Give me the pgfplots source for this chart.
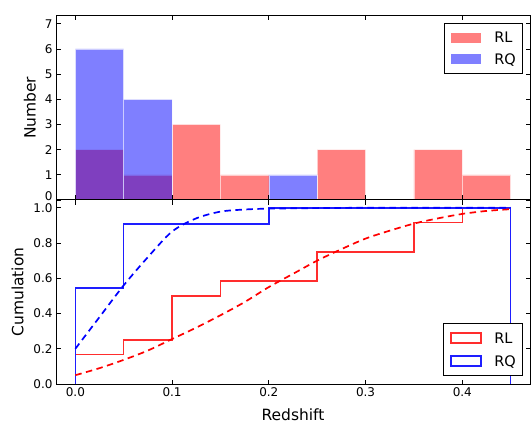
\documentclass[border=0pt]{standalone}
\usepackage{fontspec}
\setmainfont{DejaVu Sans}
\usepackage{pgfplots}
\pgfplotsset{compat=1.18}

\definecolor{rlline}{RGB}{255,45,45}
\definecolor{rqline}{RGB}{30,30,255}

\pgfplotsset{
  panel/.style={
    scale only axis,
    width=474pt,
    xmin=-0.02, xmax=0.47,
    xtick={0,0.1,0.2,0.3,0.4},
    tick align=inside,
    major tick length=4.5pt,
    every tick/.style={black, line width=0.8pt},
    axis line style={black, line width=1pt},
    tick label style={font=\fontsize{12}{12}\selectfont},
    /pgf/number format/assume math mode=true,
    label style={font=\fontsize{15.5}{16}\selectfont},
    legend cell align=left,
    legend style={
      draw=black, line width=1pt, fill=white,
      inner xsep=6.7pt, inner ysep=8.9pt,
      row sep=11.2pt,
      font=\fontsize{14.5}{16}\selectfont,
      nodes={inner sep=0pt, text height=10.5pt, text depth=0pt},
    },
  },
  patchlegend/.style={
    legend image code/.code={
      \path[##1, draw=none] (0pt,-5pt) rectangle (30pt,5pt);
      \path (42.6pt,0pt);
    },
  },
  outlinelegend/.style={
    legend image code/.code={
      \draw[##1] (0pt,-5pt) rectangle (30pt,5pt);
      \path (42.6pt,0pt);
    },
  },
}

\begin{document}
\begin{tikzpicture}
\path[use as bounding box] (0pt,0pt) rectangle (532pt,423pt);

% Histogram of the two samples
\begin{axis}[
  panel,
  at={(56pt,223pt)}, anchor=south west,
  height=184.3pt,
  ymin=0, ymax=7.32,
  ytick={0,1,2,3,4,5,6,7},
  yticklabels={\raisebox{-0.5pt}[0pt][0pt]{0},1,2,3,4,5,6,7},
  xticklabels={},
  ylabel={Number},
  y label style={at={(axis description cs:-0.055,0.5)}, anchor=center},
  axis on top,
  patchlegend,
  legend style={at={(axis description cs:1,1)}, anchor=north east,
                xshift=-7pt, yshift=-7.3pt},
]
\addlegendimage{fill=red, fill opacity=0.5}
\addlegendentry{RL}
\addlegendimage{fill=blue, fill opacity=0.5}
\addlegendentry{RQ}

\addplot[ybar interval, fill=red, fill opacity=0.5,
         draw=white, draw opacity=0.6, line width=0.6pt, forget plot]
  coordinates {(0,2) (0.05,1) (0.10,3) (0.15,1) (0.20,0) (0.25,2)
               (0.30,0) (0.35,2) (0.40,1) (0.45,1)};
\addplot[ybar interval, fill=blue, fill opacity=0.5,
         draw=white, draw opacity=0.6, line width=0.6pt, forget plot]
  coordinates {(0,6) (0.05,4) (0.10,0) (0.15,0) (0.20,1) (0.25,1)};
\end{axis}

% Cumulative distributions with model curves
\begin{axis}[
  panel,
  at={(56pt,39pt)}, anchor=south west,
  height=184pt,
  ymin=0, ymax=1.044,
  ytick={0,0.2,0.4,0.6,0.8,1.0},
  yticklabel style={/pgf/number format/.cd, fixed, fixed zerofill, precision=1},
  xticklabel style={/pgf/number format/.cd, fixed, fixed zerofill, precision=1},
  xlabel={Redshift},
  x label style={at={(axis description cs:0.5,-0.167)}, anchor=center},
  ylabel={Cumulation},
  y label style={at={(axis description cs:-0.081,0.5)}, anchor=center},
  outlinelegend,
  legend style={at={(axis description cs:1,0)}, anchor=south east,
                xshift=-7pt, yshift=8pt},
]
\addlegendimage{rlline, line width=1.5pt}
\addlegendentry{RL}
\addlegendimage{rqline, line width=1.5pt}
\addlegendentry{RQ}

\addplot[const plot mark left, rlline, line width=1.5pt, forget plot]
  coordinates {(0,0) (0,0.1667) (0.05,0.25) (0.10,0.5) (0.15,0.5833)
               (0.20,0.5833) (0.25,0.75) (0.30,0.75) (0.35,0.9167)
               (0.40,1.0) (0.45,1.0) (0.45,0)};
\addplot[const plot mark left, rqline, line width=1.5pt, forget plot]
  coordinates {(0,0) (0,0.5455) (0.05,0.9091) (0.10,0.9091) (0.15,0.9091)
               (0.20,1.0) (0.25,1.0) (0.30,1.0) (0.35,1.0) (0.40,1.0)
               (0.45,1.0) (0.45,0)};

\addplot[red, line width=1.7pt, dash pattern=on 6.5pt off 4.5pt, smooth, forget plot]
  coordinates {(0,0.05) (0.025,0.09) (0.05,0.137) (0.075,0.19) (0.10,0.255)
               (0.125,0.32) (0.15,0.39) (0.175,0.465) (0.20,0.55)
               (0.225,0.625) (0.25,0.70) (0.275,0.765) (0.30,0.825)
               (0.325,0.87) (0.35,0.91) (0.375,0.94) (0.40,0.965)
               (0.425,0.982) (0.45,0.992)};
\addplot[blue, line width=1.7pt, dash pattern=on 6.5pt off 4.5pt, smooth, forget plot]
  coordinates {(0,0.20) (0.025,0.38) (0.05,0.56) (0.075,0.72) (0.10,0.865)
               (0.125,0.94) (0.15,0.978) (0.175,0.99) (0.20,0.995)
               (0.25,0.998) (0.30,1.0) (0.35,1.0) (0.40,1.0) (0.45,1.0)};
\end{axis}
\end{tikzpicture}
\end{document}
